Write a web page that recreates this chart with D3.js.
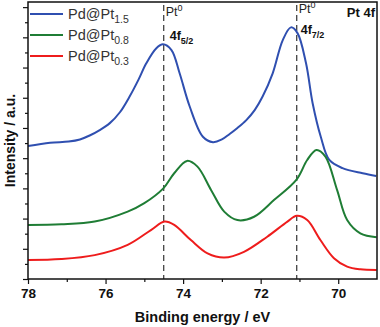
<!DOCTYPE html>
<html lang="en">
<head>
<meta charset="UTF-8">
<title>Pt 4f XPS</title>
<script src="https://d3js.org/d3.v7.min.js"></script>
<style>
  body { margin: 0; background: #fff; }
  svg { font-family: "Liberation Sans", Arial, sans-serif; }
</style>
</head>
<body>
<div id="chart"></div>
<script>
// binding energy (eV) and intensity (a.u.)
const energyBlue = [78.00, 77.43, 76.95, 76.66, 76.41, 76.15, 75.89, 75.63, 75.38, 75.15, 74.95, 74.69, 74.52, 74.30, 74.09, 73.83, 73.49, 73.23, 73.00, 72.80, 72.60, 72.37, 72.15, 71.95, 71.69, 71.43, 71.22, 71.05, 70.83, 70.66, 70.45, 70.23, 69.89, 69.37, 69.02];
const intBlue    = [4.40, 4.51, 4.55, 4.62, 4.75, 4.93, 5.16, 5.52, 6.04, 6.60, 7.14, 7.64, 7.77, 7.58, 6.81, 5.71, 4.71, 4.53, 4.62, 4.80, 5.00, 5.26, 5.60, 6.04, 6.81, 7.91, 8.33, 8.14, 7.14, 5.82, 4.71, 3.94, 3.67, 3.50, 3.41];

const energyGreen = [78.00, 77.14, 76.28, 75.43, 75.00, 74.51, 74.23, 73.90, 73.63, 73.28, 72.94, 72.60, 72.17, 71.65, 71.07, 70.80, 70.56, 70.33, 70.03, 69.77, 69.43, 69.01];
const intGreen    = [1.79, 1.81, 1.90, 2.23, 2.51, 3.00, 3.50, 3.91, 3.72, 2.95, 2.23, 1.95, 2.06, 2.62, 3.30, 3.94, 4.27, 4.05, 2.95, 1.95, 1.51, 1.38];

const energyRed = [78.00, 77.14, 76.28, 75.43, 74.83, 74.48, 74.23, 73.80, 73.37, 72.94, 72.43, 71.83, 71.31, 71.07, 70.80, 70.46, 70.11, 69.77, 69.43, 69.01];
const intRed    = [0.63, 0.66, 0.79, 1.13, 1.62, 1.90, 1.79, 1.29, 0.85, 0.71, 0.90, 1.40, 1.90, 2.09, 1.95, 1.29, 0.69, 0.41, 0.32, 0.30];

const seriesNames = ["1.5", "0.8", "0.3"];
const seriesColors = ["#2f4fb0", "#1f7d35", "#ee1c1c"];
const peakEnergies = [74.5, 71.07];
const peakLabels = ["5/2", "7/2"];
const xTicks = [78, 76, 74, 72, 70];
const xMinor = [77, 75, 73, 71];

const W = 380, H = 327;
const m = { left: 28, right: 3, top: 2, bottom: 48 };

const svg = d3.select("#chart").append("svg")
  .attr("width", W).attr("height", H);

const x = d3.scaleLinear().domain([78, 69]).range([m.left, W - m.right]);
const y = d3.scaleLinear().domain([0, 9.17]).range([H - m.bottom, m.top]);

const series = [
  { e: energyBlue, v: intBlue },
  { e: energyGreen, v: intGreen },
  { e: energyRed, v: intRed }
];

// dashed reference lines
svg.selectAll(".peak").data(peakEnergies).enter().append("line")
  .attr("x1", d => x(d)).attr("x2", d => x(d))
  .attr("y1", 5).attr("y2", y(0))
  .attr("stroke", "#333").attr("stroke-width", 1.2)
  .attr("stroke-dasharray", "6,4");

// curves
const line = d3.line()
  .x(d => x(d[0])).y(d => y(d[1]))
  .curve(d3.curveCatmullRom.alpha(0.5));

series.forEach((s, i) => {
  svg.append("path")
    .datum(s.e.map((e, j) => [e, s.v[j]]))
    .attr("d", line)
    .attr("fill", "none")
    .attr("stroke", seriesColors[i])
    .attr("stroke-width", 2);
});

// frame
svg.append("rect")
  .attr("x", m.left).attr("y", m.top)
  .attr("width", W - m.right - m.left).attr("height", y(0) - m.top)
  .attr("fill", "none").attr("stroke", "#111").attr("stroke-width", 1.5);

// axes
const yMajor = d3.range(0, 10, 1);
const yMinor = d3.range(0.5, 9.5, 1);

const ax = svg.append("g").attr("transform", `translate(${m.left},0)`);
ax.call(d3.axisLeft(y).tickValues(yMajor).tickSize(5).tickFormat(""));
const axm = svg.append("g").attr("transform", `translate(${m.left},0)`);
axm.call(d3.axisLeft(y).tickValues(yMinor).tickSize(3).tickFormat(""));

const bx = svg.append("g").attr("transform", `translate(0,${y(0)})`);
bx.call(d3.axisBottom(x).tickValues(xTicks).tickSize(5).tickPadding(4).tickFormat(d3.format("d")));
const bxm = svg.append("g").attr("transform", `translate(0,${y(0)})`);
bxm.call(d3.axisBottom(x).tickValues(xMinor).tickSize(3).tickFormat(""));

svg.selectAll(".domain").remove();
svg.selectAll(".tick line").attr("stroke", "#111").attr("stroke-width", 1.2);
bx.selectAll("text")
  .attr("font-size", 13.5).attr("font-weight", "bold")
  .attr("fill", "#111").attr("font-family", "'Liberation Sans', Arial, sans-serif");

// axis titles
svg.append("text")
  .attr("x", (m.left + W - m.right) / 2).attr("y", 322)
  .attr("text-anchor", "middle").attr("font-size", 14.5).attr("font-weight", "bold")
  .attr("fill", "#111").text("Binding energy / eV");

svg.append("text")
  .attr("transform", `translate(15,${(m.top + y(0)) / 2}) rotate(-90)`)
  .attr("text-anchor", "middle").attr("font-size", 14).attr("font-weight", "bold")
  .attr("fill", "#111").text("Intensity / a.u.");

// legend
const leg = svg.append("g");
seriesNames.forEach((n, i) => {
  const ly = 14 + i * 21;
  leg.append("line")
    .attr("x1", 30).attr("x2", 63).attr("y1", ly).attr("y2", ly)
    .attr("stroke", seriesColors[i]).attr("stroke-width", 2);
  const t = leg.append("text")
    .attr("x", 68).attr("y", ly + 5)
    .attr("font-size", 14.5).attr("fill", "#333");
  t.append("tspan").text("Pd@Pt");
  t.append("tspan").attr("font-size", 10.5).attr("dy", 4).text(n);
});

// peak labels
const labelPos = [
  { px: x(peakEnergies[0]) + 2, py0: 16, fx: x(peakEnergies[0]) + 6, fy: 40 },
  { px: x(peakEnergies[1]) + 2, py0: 13, fx: x(peakEnergies[1]) + 4, fy: 34 }
];
labelPos.forEach((p, i) => {
  const t = svg.append("text").attr("x", p.px).attr("y", p.py0)
    .attr("font-size", 12.5).attr("fill", "#222");
  t.append("tspan").text("Pt");
  t.append("tspan").attr("font-size", 9).attr("dy", -5).text("0");

  const f = svg.append("text").attr("x", p.fx).attr("y", p.fy)
    .attr("font-size", 12.5).attr("font-weight", "bold").attr("fill", "#111");
  f.append("tspan").text("4f");
  f.append("tspan").attr("font-size", 9).attr("dy", 4).text(peakLabels[i]);
});

svg.append("text")
  .attr("x", 375).attr("y", 17).attr("text-anchor", "end")
  .attr("font-size", 13).attr("font-weight", "bold").attr("fill", "#111")
  .text("Pt 4f");
</script>
</body>
</html>
